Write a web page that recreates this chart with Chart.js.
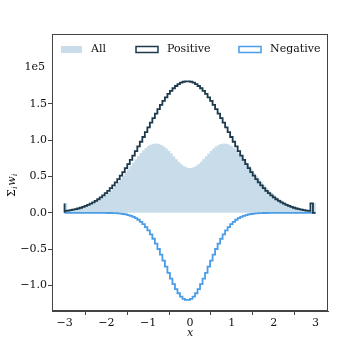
<!DOCTYPE html>
<html>
<head>
<meta charset="utf-8">
<script src="https://cdn.jsdelivr.net/npm/chart.js@4.4.1/dist/chart.umd.min.js"></script>
<style>
  html, body { margin: 0; padding: 0; background: #fff; }
  canvas { display: block; }
</style>
</head>
<body>
<canvas id="histChart" width="346" height="346"></canvas>
<script>
// 100 equal bins between -3 and 3, values in units of 1e5
const binStart = -3;
const binEnd = 3;
const binCount = 100;

const allValues = [
    0.130, 0.026, 0.031, 0.037, 0.044, 0.051, 0.060, 0.070, 0.082, 0.095,
    0.109, 0.126, 0.144, 0.165, 0.187, 0.212, 0.239, 0.269, 0.301, 0.337,
    0.374, 0.415, 0.456, 0.500, 0.545, 0.592, 0.640, 0.687, 0.733, 0.776,
    0.818, 0.855, 0.887, 0.914, 0.933, 0.945, 0.948, 0.943, 0.930, 0.909,
    0.881, 0.848, 0.811, 0.772, 0.733, 0.697, 0.665, 0.639, 0.621, 0.611,
    0.611, 0.621, 0.639, 0.665, 0.697, 0.733, 0.772, 0.811, 0.848, 0.881,
    0.909, 0.930, 0.943, 0.948, 0.945, 0.933, 0.914, 0.887, 0.855, 0.818,
    0.776, 0.733, 0.687, 0.640, 0.592, 0.545, 0.500, 0.456, 0.415, 0.374,
    0.337, 0.301, 0.269, 0.239, 0.212, 0.187, 0.165, 0.144, 0.126, 0.109,
    0.095, 0.082, 0.070, 0.060, 0.051, 0.044, 0.037, 0.031, 0.026, 0.130
];

const positiveValues = [
    0.130, 0.026, 0.031, 0.037, 0.044, 0.051, 0.060, 0.070, 0.082, 0.095,
    0.109, 0.126, 0.144, 0.165, 0.187, 0.212, 0.240, 0.270, 0.303, 0.339,
    0.378, 0.420, 0.464, 0.511, 0.561, 0.614, 0.670, 0.728, 0.788, 0.849,
    0.913, 0.978, 1.043, 1.109, 1.175, 1.240, 1.304, 1.366, 1.427, 1.484,
    1.539, 1.589, 1.636, 1.677, 1.714, 1.745, 1.771, 1.790, 1.803, 1.809,
    1.809, 1.803, 1.790, 1.771, 1.745, 1.714, 1.677, 1.636, 1.589, 1.539,
    1.484, 1.427, 1.366, 1.304, 1.240, 1.175, 1.109, 1.043, 0.978, 0.913,
    0.849, 0.788, 0.728, 0.670, 0.614, 0.561, 0.511, 0.464, 0.420, 0.378,
    0.339, 0.303, 0.270, 0.240, 0.212, 0.187, 0.165, 0.144, 0.126, 0.109,
    0.095, 0.082, 0.070, 0.060, 0.051, 0.044, 0.037, 0.031, 0.026, 0.130
];

const negativeValues = [
    0, 0, 0, 0, 0, 0, 0, 0, 0, 0,
    0, 0, 0, 0, 0, 0, -0.001, -0.001, -0.002, -0.002,
    -0.004, -0.005, -0.008, -0.011, -0.016, -0.022, -0.030, -0.041, -0.055, -0.073,
    -0.095, -0.123, -0.156, -0.195, -0.242, -0.295, -0.356, -0.423, -0.497, -0.575,
    -0.658, -0.741, -0.825, -0.905, -0.981, -1.048, -1.106, -1.151, -1.182, -1.198,
    -1.198, -1.182, -1.151, -1.106, -1.048, -0.981, -0.905, -0.825, -0.741, -0.658,
    -0.575, -0.497, -0.423, -0.356, -0.295, -0.242, -0.195, -0.156, -0.123, -0.095,
    -0.073, -0.055, -0.041, -0.030, -0.022, -0.016, -0.011, -0.008, -0.005, -0.004,
    -0.002, -0.002, -0.001, -0.001, 0, 0, 0, 0, 0, 0,
    0, 0, 0, 0, 0, 0, 0, 0, 0, 0
];

const xTicks = [-3, -2, -1, 0, 1, 2, 3];
const yTicks = [-1.0, -0.5, 0.0, 0.5, 1.0, 1.5];
const yOffsetLabel = '1e5';
const seriesNames = ['All', 'Positive', 'Negative'];

const allColor = '#c9dcea';
const posColor = '#1c3a4c';
const negColor = '#4a9de6';
const frameColor = '#444';
const textColor = '#111';
const serif = "'DejaVu Serif', serif";

const binWidth = (binEnd - binStart) / binCount;

// outline of a step histogram: up at the first edge, across each bin, down at the last edge
function stepPoints(values) {
    const pts = [{ x: binStart, y: 0 }];
    values.forEach((v, i) => pts.push({ x: binStart + i * binWidth, y: v }));
    pts.push({ x: binEnd, y: 0 });
    return pts;
}

const barPoints = allValues.map((v, i) => ({ x: binStart + (i + 0.5) * binWidth, y: v }));

function minusSign(s) {
    return s.replace('-', '\u2212');
}

const decorPlugin = {
    id: 'decor',
    afterDraw(chart) {
        const ctx = chart.ctx;
        const a = chart.chartArea;
        ctx.save();

        // axes frame
        ctx.strokeStyle = frameColor;
        ctx.lineWidth = 1;
        ctx.strokeRect(a.left + 0.5, a.top + 0.5, a.right - a.left - 1, a.bottom - a.top - 1);

        // offset label
        ctx.fillStyle = textColor;
        ctx.font = '11px ' + serif;
        ctx.textAlign = 'right';
        ctx.textBaseline = 'middle';
        ctx.fillText(yOffsetLabel, 45, 67);

        // x label
        ctx.textAlign = 'center';
        ctx.font = 'italic 11px ' + serif;
        ctx.fillText('x', (a.left + a.right) / 2, 333);

        // y label: Σ_i w_i
        ctx.translate(12, 186);
        ctx.rotate(-Math.PI / 2);
        const runs = [
            { t: '\u03A3', f: '11px ' + serif, dy: 0 },
            { t: 'i', f: 'italic 7.5px ' + serif, dy: 3 },
            { t: 'w', f: 'italic 11px ' + serif, dy: 0 },
            { t: 'i', f: 'italic 7.5px ' + serif, dy: 3 }
        ];
        let total = 0;
        runs.forEach(r => { ctx.font = r.f; r.w = ctx.measureText(r.t).width; total += r.w; });
        let cx = -total / 2;
        ctx.textAlign = 'left';
        runs.forEach(r => {
            ctx.font = r.f;
            ctx.fillText(r.t, cx, r.dy);
            cx += r.w + 0.5;
        });
        ctx.restore();

        // legend inside the axes
        ctx.save();
        ctx.font = '11px ' + serif;
        ctx.textBaseline = 'middle';
        ctx.textAlign = 'left';
        const ly = 49.5;
        ctx.fillStyle = allColor;
        ctx.fillRect(61, 46, 21, 7);
        ctx.lineWidth = 1.5;
        ctx.strokeStyle = posColor;
        ctx.strokeRect(136, 46.5, 22, 6);
        ctx.strokeStyle = negColor;
        ctx.strokeRect(239, 46.5, 22, 6);
        ctx.fillStyle = textColor;
        ctx.fillText(seriesNames[0], 91, ly);
        ctx.fillText(seriesNames[1], 167, ly);
        ctx.fillText(seriesNames[2], 270, ly);
        ctx.restore();
    }
};

Chart.defaults.font.family = serif;
Chart.defaults.font.size = 11;
Chart.defaults.color = textColor;

new Chart(document.getElementById('histChart').getContext('2d'), {
    type: 'bar',
    data: {
        datasets: [
            {
                type: 'line',
                label: seriesNames[1],
                data: stepPoints(positiveValues),
                borderColor: posColor,
                borderWidth: 1.8,
                stepped: 'after',
                pointRadius: 0,
                fill: false,
                order: 1
            },
            {
                type: 'line',
                label: seriesNames[2],
                data: stepPoints(negativeValues),
                borderColor: negColor,
                borderWidth: 1.8,
                stepped: 'after',
                pointRadius: 0,
                fill: false,
                order: 2
            },
            {
                type: 'bar',
                label: seriesNames[0],
                data: barPoints,
                backgroundColor: allColor,
                borderWidth: 0,
                barPercentage: 1,
                categoryPercentage: 1,
                order: 3
            }
        ]
    },
    options: {
        responsive: false,
        animation: false,
        devicePixelRatio: 1,
        layout: { padding: { left: 0, top: 34, right: 18, bottom: 0 } },
        plugins: {
            legend: { display: false },
            tooltip: { enabled: false }
        },
        scales: {
            x: {
                type: 'linear',
                min: -3.3,
                max: 3.3,
                offset: false,
                grid: { drawOnChartArea: false, tickLength: 4, color: frameColor },
                border: { display: true, color: frameColor },
                ticks: {
                    padding: 2,
                    maxRotation: 0,
                    callback: v => minusSign(String(v))
                },
                afterBuildTicks: s => { s.ticks = xTicks.map(v => ({ value: v })); },
                afterFit: s => { s.height = 35; }
            },
            y: {
                type: 'linear',
                min: -1.35,
                max: 2.46,
                grid: { drawOnChartArea: false, tickLength: 4, color: frameColor },
                border: { display: true, color: frameColor },
                ticks: {
                    padding: 1,
                    callback: v => minusSign(v.toFixed(1))
                },
                afterBuildTicks: s => { s.ticks = yTicks.map(v => ({ value: v })); },
                afterFit: s => { s.width = 52; }
            }
        }
    },
    plugins: [decorPlugin]
});
</script>
</body>
</html>
